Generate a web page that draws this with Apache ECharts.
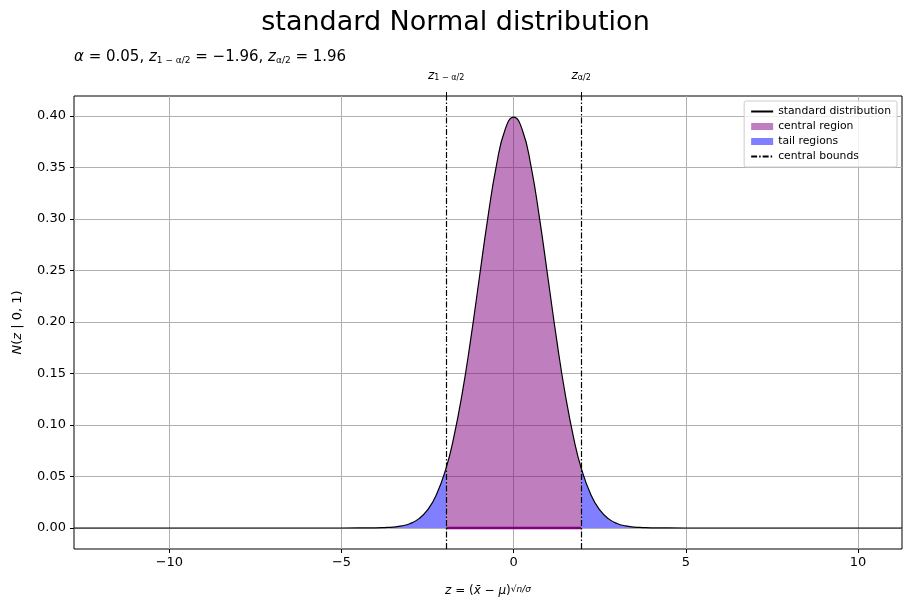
<!DOCTYPE html>
<html>
<head>
<meta charset="utf-8">
<title>standard Normal distribution</title>
<script src="https://cdn.jsdelivr.net/npm/echarts@6/dist/echarts.min.js"></script>
<style>
  html, body { margin: 0; padding: 0; background: #fff; }
  #chart { width: 911px; height: 611px; }
</style>
</head>
<body>
<div id="chart"></div>
<script>
// values
const curveX = [-12.77, -10, -7, -5.5, -4.5, -4, -3.75, -3.5, -3.25, -3, -2.75, -2.5, -2.25, -1.96, -1.75, -1.5, -1.25, -1, -0.75, -0.5, -0.25,
  0, 0.25, 0.5, 0.75, 1, 1.25, 1.5, 1.75, 1.96, 2.25, 2.5, 2.75, 3, 3.25, 3.5, 3.75, 4, 4.5, 5.5, 7, 10, 11.28];
const curveY = [0, 0, 0, 0, 0.00002, 0.0001, 0.0004, 0.0009, 0.002, 0.0044, 0.0091, 0.0175, 0.0317, 0.0584, 0.0863, 0.1295, 0.1826, 0.242, 0.3011, 0.3521, 0.3867,
  0.3989, 0.3867, 0.3521, 0.3011, 0.242, 0.1826, 0.1295, 0.0863, 0.0584, 0.0317, 0.0175, 0.0091, 0.0044, 0.002, 0.0009, 0.0004, 0.0001, 0.00002, 0, 0, 0, 0];
const bounds = [-1.96, 1.96];
const xTicks = [-10, -5, 0, 5, 10];
const yTicks = [0, 0.05, 0.1, 0.15, 0.2, 0.25, 0.3, 0.35, 0.4];

const xMin = -12.77, xMax = 11.28;
const yMin = -0.0204, yMax = 0.4194;

const points = curveX.map((x, i) => [x, curveY[i]]);
const centralPts = points.filter(p => p[0] >= bounds[0] && p[0] <= bounds[1]);
const leftPts = points.filter(p => p[0] <= bounds[0]);
const rightPts = points.filter(p => p[0] >= bounds[1]);

const font = "DejaVu Sans";
const smoothness = 0.5;

const chart = echarts.init(document.getElementById("chart"));

// legend line icons without the dot in the middle
const noDot = { color: "transparent", borderColor: "transparent", borderWidth: 0, opacity: 0 };

const option = {
  animation: false,
  textStyle: { fontFamily: font, color: "#000" },
  title: [
    {
      text: "standard Normal distribution",
      left: "center",
      top: 4,
      textStyle: { fontFamily: font, fontSize: 27, fontWeight: "normal", color: "#000" },
    },
    {
      text: "{it|α} = 0.05, {it|z}{sub|1 − α/2} = −1.96, {it|z}{sub|α/2} = 1.96",
      left: 69,
      top: 45,
      textStyle: {
        fontFamily: font,
        fontSize: 15,
        fontWeight: "normal",
        color: "#000",
        rich: {
          it: { fontStyle: "italic", fontSize: 15, fontFamily: font },
          sub: { fontSize: 9, verticalAlign: "bottom", fontFamily: font, padding: [6, 0, 0, 0] },
        },
      },
    },
  ],
  legend: {
    orient: "vertical",
    right: 14,
    top: 101,
    padding: [5, 6, 5, 6],
    itemGap: 4,
    itemWidth: 22,
    itemHeight: 7,
    borderColor: "#cccccc",
    borderWidth: 1,
    borderRadius: 2,
    backgroundColor: "rgba(255,255,255,0.8)",
    textStyle: { fontFamily: font, fontSize: 10.8, color: "#000" },
    data: [
      { name: "standard distribution", itemStyle: noDot },
      { name: "central region", icon: "rect" },
      { name: "tail regions", icon: "rect" },
      { name: "central bounds", itemStyle: noDot },
    ],
  },
  grid: {
    left: 74,
    right: 9,
    top: 96,
    bottom: 62,
    show: true,
    borderColor: "#000",
    borderWidth: 1,
    backgroundColor: "transparent",
  },
  xAxis: [
    {
      type: "value",
      min: xMin,
      max: xMax,
      name: "{it|z} = ({it|x̄} − {it|μ}){frac|√n/σ}",
      nameLocation: "middle",
      nameGap: 36,
      nameTextStyle: {
        fontFamily: font,
        fontSize: 12,
        color: "#000",
        rich: {
          it: { fontStyle: "italic", fontSize: 12, fontFamily: font },
          frac: { fontStyle: "italic", fontSize: 9, fontFamily: font, verticalAlign: "top" },
        },
      },
      axisLine: { show: false, onZero: false },
      axisTick: { show: true, inside: false, length: 4, customValues: xTicks, lineStyle: { color: "#000" } },
      axisLabel: {
        customValues: xTicks,
        fontSize: 13,
        fontFamily: font,
        color: "#000",
        margin: 7,
        formatter: v => (v < 0 ? "−" + Math.abs(v) : String(v)),
      },
      splitLine: { show: true, lineStyle: { color: "#b0b0b0", width: 1 } },
    },
    {
      type: "value",
      position: "top",
      min: xMin,
      max: xMax,
      axisLine: { show: false, onZero: false },
      axisTick: { show: true, inside: false, length: 4, customValues: bounds, lineStyle: { color: "#000" } },
      axisLabel: {
        customValues: bounds,
        margin: 14,
        fontFamily: font,
        color: "#000",
        formatter: v => (v < 0 ? "{it|z}{sub|1 − α/2}" : "{it|z}{sub|α/2}"),
        rich: {
          it: { fontStyle: "italic", fontSize: 12, fontFamily: font },
          sub: { fontSize: 8, fontFamily: font, verticalAlign: "bottom", padding: [5, 0, 0, 0] },
        },
      },
      splitLine: { show: false },
    },
  ],
  yAxis: {
    type: "value",
    min: yMin,
    max: yMax,
    name: "{it|N}({it|z} | 0, 1)",
    nameLocation: "middle",
    nameGap: 50,
    nameRotate: 90,
    nameTextStyle: {
      fontFamily: font,
      fontSize: 13,
      color: "#000",
      rich: { it: { fontStyle: "italic", fontSize: 13, fontFamily: font } },
    },
    axisLine: { show: false, onZero: false },
    axisTick: { show: true, inside: false, length: 4, customValues: yTicks, lineStyle: { color: "#000" } },
    axisLabel: {
      customValues: yTicks,
      fontSize: 13,
      fontFamily: font,
      color: "#000",
      margin: 8,
      formatter: v => v.toFixed(2),
    },
    splitLine: { show: true, lineStyle: { color: "#b0b0b0", width: 1 } },
  },
  series: [
    {
      name: "tail regions",
      type: "line",
      data: leftPts,
      smooth: smoothness,
      symbol: "none",
      itemStyle: { color: "rgba(0,0,255,0.5)" },
      lineStyle: { width: 0 },
      areaStyle: { color: "rgba(0,0,255,0.5)", opacity: 1 },
      z: 2,
    },
    {
      name: "tail regions",
      type: "line",
      data: rightPts,
      smooth: smoothness,
      symbol: "none",
      itemStyle: { color: "rgba(0,0,255,0.5)" },
      lineStyle: { width: 0 },
      areaStyle: { color: "rgba(0,0,255,0.5)", opacity: 1 },
      z: 2,
    },
    {
      name: "central region",
      type: "line",
      data: centralPts,
      smooth: smoothness,
      symbol: "none",
      itemStyle: { color: "rgba(128,0,128,0.5)" },
      lineStyle: { width: 0 },
      areaStyle: { color: "rgba(128,0,128,0.5)", opacity: 1 },
      z: 2,
    },
    {
      name: "standard distribution",
      type: "line",
      data: points,
      smooth: smoothness,
      symbol: "none",
      itemStyle: { color: "#000" },
      lineStyle: { color: "#000", width: 1.2 },
      z: 3,
    },
    {
      name: "central edge",
      type: "line",
      data: bounds.map(b => [b, 0]),
      symbol: "none",
      lineStyle: { color: "#800080", width: 2.5 },
      z: 4,
    },
    {
      name: "central bounds",
      type: "line",
      data: [],
      symbol: "none",
      itemStyle: { color: "#000" },
      lineStyle: { color: "#000", width: 1.2, type: [6, 2, 1.5, 2] },
      markLine: {
        silent: true,
        symbol: "none",
        label: { show: false },
        lineStyle: { color: "#000", width: 1.2, type: [6, 2, 1.5, 2] },
        data: bounds.map(b => ({ xAxis: b })),
      },
      z: 5,
    },
  ],
};

chart.setOption(option);
</script>
</body>
</html>
